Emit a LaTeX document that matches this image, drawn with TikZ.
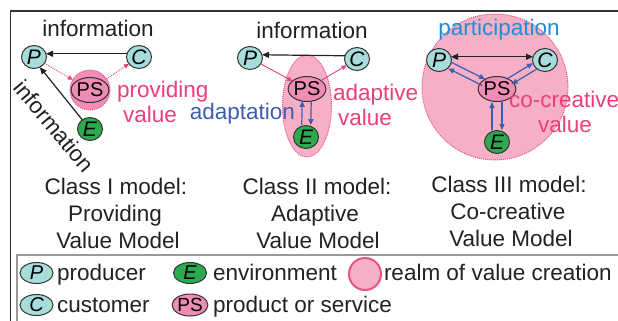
\documentclass[tikz,border=0pt]{standalone}
\usepackage{fontspec}
\setmainfont{Liberation Sans}
\usetikzlibrary{shapes.geometric,arrows.meta,calc}
\definecolor{tealc}{HTML}{A6DCD9}
\definecolor{greenc}{HTML}{2DAA4F}
\definecolor{psc}{HTML}{EF8CB6}
\definecolor{realmc}{HTML}{F6B0C6}
\definecolor{glowc}{HTML}{F28DB8}
\definecolor{realmb}{HTML}{E9508A}
\definecolor{pinkc}{HTML}{EC3F78}
\definecolor{bluec}{HTML}{3E5DB0}
\definecolor{partc}{HTML}{1F8ED6}
\definecolor{blackc}{HTML}{222222}
\definecolor{nodeline}{HTML}{333333}
\definecolor{framec}{HTML}{333333}
\definecolor{legc}{HTML}{999999}
\begin{document}
\begin{tikzpicture}[x=1pt,y=-1pt,
  every node/.style={font=\fontsize{22.5}{27}\selectfont, inner sep=0pt, outer sep=0pt},
  agent/.style={ellipse, draw=nodeline, line width=1pt, minimum width=25pt, minimum height=23pt, font=\fontsize{21}{21}\selectfont\itshape},
  pnode/.style={agent, fill=tealc},
  enode/.style={agent, fill=greenc},
  psnode/.style={ellipse, draw=nodeline, line width=1pt, fill=psc, minimum width=33pt, minimum height=25pt, font=\fontsize{20}{20}\selectfont},
  legagent/.style={ellipse, draw=nodeline, line width=1pt, minimum width=33pt, minimum height=21pt, font=\fontsize{20}{20}\selectfont\itshape},
  legps/.style={ellipse, draw=nodeline, line width=1pt, fill=psc, minimum width=34pt, minimum height=22pt, font=\fontsize{19}{19}\selectfont},
  realm/.style={fill=realmc, draw=realmb, densely dotted, line width=1pt},
  blk/.style={draw=blackc, line width=1.2pt, -{Triangle[length=7pt,width=6pt]}},
  pinkarr/.style={draw=pinkc, line width=0.9pt, -{Triangle[length=5pt,width=4.5pt]}},
  bluarr/.style={draw=bluec, line width=1.2pt, -{Triangle[length=6pt,width=5pt]}},
  pinktxt/.style={text=pinkc, anchor=base},
  lab/.style={anchor=base, text=blackc},
  frame/.style={draw=framec, line width=1.5pt},
  legbox/.style={draw=legc, line width=1.5pt}]
\useasboundingbox (0,0) rectangle (618,321);
\clip (0,0) rectangle (618,321);
\fill[white] (0,0) rectangle (618,321);
\draw[frame] (10.5,11) rectangle (640,340);
\draw[legbox] (17,255) rectangle (640,340);

% ---------- Panel 1 ----------
\node[circle, minimum size=40pt, fill=glowc, draw=realmb, densely dotted, line width=1pt] (G1) at (90,90) {};
\node[pnode] (P1) at (34,57) {P};
\node[pnode] (C1) at (139,57) {C};
\node[psnode] (PS1) at (90,90) {PS};
\node[enode] (E1) at (90,129) {E};
\node[lab] (info1) at (98,37) {information};
\node[text=blackc, rotate=-50] (info1b) at (54,126) {information};
\draw[blk] (C1.165) -- (P1.15);
\draw[blk] (E1.130) -- (P1.-60);
\draw[pinkarr, densely dotted] (P1) -- (G1);
\draw[pinkarr, densely dotted] (G1) -- (C1);
\node[pinktxt, anchor=base west] (prov) at (117,97) {providing};
\node[pinktxt] (val1) at (150,122) {value};

% ---------- Panel 2 ----------
\node[ellipse, minimum width=49pt, minimum height=102pt, realm] (R2) at (307,106) {};
\node[pnode] (P2) at (250,58) {P};
\node[pnode] (C2) at (357,59) {C};
\node[psnode] (PS2) at (307,89) {PS};
\node[enode] (E2) at (306,137) {E};
\node[lab] (info2) at (312,38) {information};
\draw[blk] (C2.165) -- (P2.15);
\draw[pinkarr] (P2) -- (PS2);
\draw[pinkarr] (PS2) -- (C2);
\draw[bluarr, shorten <=12pt, shorten >=12pt] ($(E2)!4.5pt!90:(PS2)$) -- ($(PS2)!4.5pt!-90:(E2)$);
\draw[bluarr, shorten <=12pt, shorten >=12pt] ($(PS2)!4.5pt!90:(E2)$) -- ($(E2)!4.5pt!-90:(PS2)$);
\node[pinktxt, anchor=base west] (adap) at (333,100) {adaptive};
\node[pinktxt] (val2) at (365,125) {value};
\node[anchor=base east, text=bluec] (adapt) at (295,119) {adaptation};

% ---------- Panel 3 ----------
\node[circle, minimum size=146pt, realm] (R3) at (495,87) {};
\node[pnode] (P3) at (439,60) {P};
\node[pnode] (C3) at (545,60) {C};
\node[psnode] (PS3) at (497,89) {PS};
\node[enode] (E3) at (497,142) {E};
\node[anchor=base, text=partc] (part) at (499,36) {participation};
\draw[blk, {Triangle[length=7pt,width=6pt]}-{Triangle[length=7pt,width=6pt]}] (P3.15) -- (C3.165);
% P - PS
\draw[bluarr, shorten <=12pt, shorten >=15pt] ($(P3)!3.5pt!90:(PS3)$) -- ($(PS3)!3.5pt!-90:(P3)$);
\draw[bluarr, shorten <=15pt, shorten >=12pt] ($(PS3)!3.5pt!90:(P3)$) -- ($(P3)!3.5pt!-90:(PS3)$);
% C - PS
\draw[bluarr, shorten <=15pt, shorten >=12pt] ($(PS3)!3.5pt!90:(C3)$) -- ($(C3)!3.5pt!-90:(PS3)$);
\draw[bluarr, shorten <=12pt, shorten >=15pt] ($(C3)!3.5pt!90:(PS3)$) -- ($(PS3)!3.5pt!-90:(C3)$);
% E - PS
\draw[bluarr, shorten <=12pt, shorten >=13pt] ($(E3)!5pt!90:(PS3)$) -- ($(PS3)!5pt!-90:(E3)$);
\draw[bluarr, shorten <=13pt, shorten >=12pt] ($(PS3)!5pt!90:(E3)$) -- ($(E3)!5pt!-90:(PS3)$);
\node[pinktxt, anchor=base west] (cocr) at (509,107) {co-creative};
\node[pinktxt] (val3) at (565,132) {value};

% ---------- Captions ----------
\node[lab] (cap1a) at (116,194) {Class I model:};
\node[lab] (cap1b) at (115,221) {Providing};
\node[lab] (cap1c) at (118,248) {Value Model};
\node[lab] (cap2a) at (317,194) {Class II model:};
\node[lab] (cap2b) at (315,221) {Adaptive};
\node[lab] (cap2c) at (318,248) {Value Model};
\node[lab] (cap3a) at (509,192) {Class III model:};
\node[lab] (cap3b) at (508,219) {Co-creative};
\node[lab] (cap3c) at (511,246) {Value Model};

% ---------- Legend ----------
\node[legagent, fill=tealc] (lP) at (36.5,273) {P};
\node[anchor=base west, text=blackc] (lPt) at (57,280) {producer};
\node[legagent, fill=tealc] (lC) at (36.5,305) {C};
\node[anchor=base west, text=blackc] (lCt) at (57,312) {customer};
\node[legagent, fill=greenc] (lE) at (190,273) {E};
\node[anchor=base west, text=blackc] (lEt) at (213,280) {environment};
\node[legps] (lPS) at (190,305) {PS};
\node[anchor=base west, text=blackc] (lPSt) at (213,312) {product or service};
\node[circle, minimum size=32pt, fill=realmc, draw=realmb, line width=2pt] (lR) at (365,274) {};
\node[anchor=base west, text=blackc] (lRt) at (384,280) {realm of value creation};
\end{tikzpicture}
\end{document}
